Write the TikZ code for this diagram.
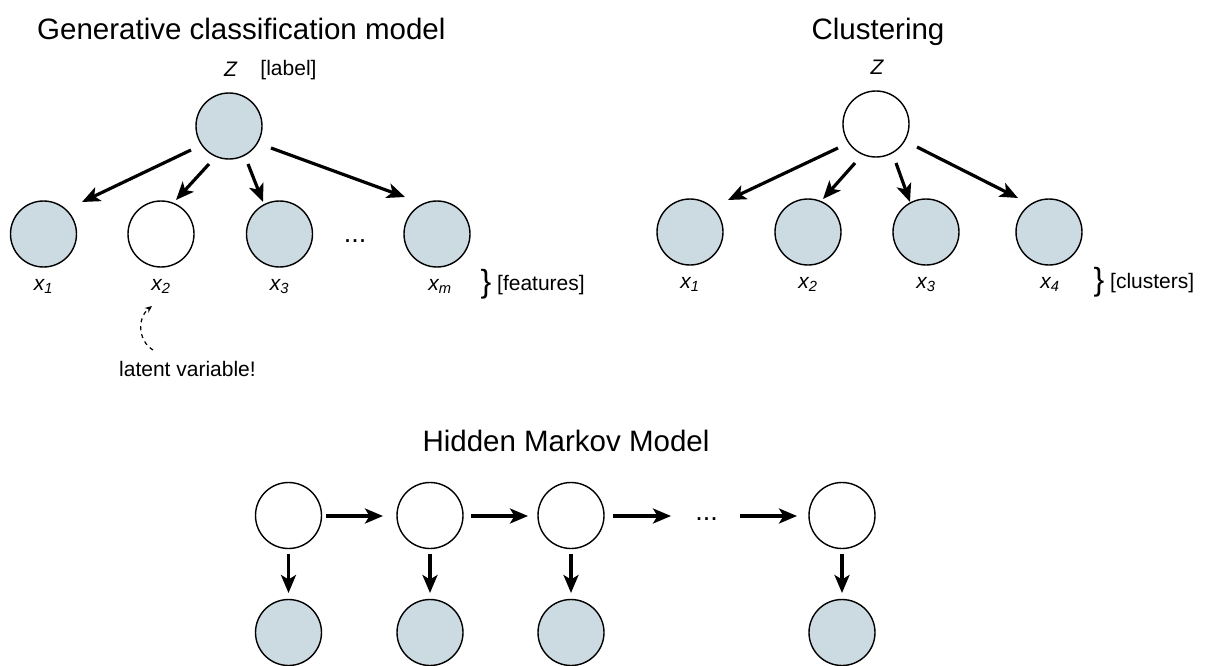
\documentclass[tikz,border=0pt]{standalone}
\usepackage{fontspec}
\setmainfont{Liberation Sans}
\usetikzlibrary{arrows.meta}
\definecolor{obs}{RGB}{204,218,225}
\begin{document}
\begin{tikzpicture}[x=1pt,y=-1pt,
  var/.style={circle,draw=black,line width=1.4pt,minimum size=66pt,inner sep=0pt},
  obsv/.style={var,fill=obs},
  hid/.style={var,fill=white},
  arr/.style={line width=3.2pt,-{Stealth[length=18pt,width=15pt,inset=4.5pt]}},
  title/.style={font=\fontsize{29.5}{34}\selectfont,inner sep=0pt},
  lbl/.style={font=\fontsize{21}{25}\selectfont,inner sep=0pt},
  xl/.style={font=\fontsize{21}{25}\selectfont\itshape,inner sep=0pt},
  bracetxt/.style={font=\fontsize{32}{36}\selectfont,inner sep=0pt},
  dotstxt/.style={font=\fontsize{27}{30}\selectfont,inner sep=0pt}
]
\useasboundingbox (0,0) rectangle (1205,666);

% titles
\node[title,anchor=base west] (t1) at (37,40) {Generative classification model};
\node[title,anchor=base] (t2) at (878,40) {Clustering};
\node[title,anchor=base] (t3) at (566,451) {Hidden Markov Model};

% ---------- generative classification model ----------
\node[obsv] (g) at (229,126) {};
\node[obsv] (g1) at (43.5,234) {};
\node[hid]  (g2) at (161,234) {};
\node[obsv] (g3) at (279.5,234) {};
\node[obsv] (gm) at (437,234) {};
\node[dotstxt,anchor=base] (gd) at (355,242) {...};

\node[xl,anchor=base] (gz) at (230.5,77) {Z};
\node[lbl,anchor=base] (glab) at (288.5,76) {[label]};

\node[xl,anchor=base] (gl1) at (43.5,290) {x\textsubscript{1}};
\node[xl,anchor=base] (gl2) at (161,290) {x\textsubscript{2}};
\node[xl,anchor=base] (gl3) at (279.5,290) {x\textsubscript{3}};
\node[xl,anchor=base] (glm) at (440,290) {x\textsubscript{m}};
\node[bracetxt] (gb) at (486,284) {\}};
\node[lbl,anchor=base west] (gf) at (497,290) {[features]};

\draw[arr] ([shift={(-38,24)}]g.center) -- ([shift={(38.5,-32)}]g1.center);
\draw[arr] ([shift={(-20,38)}]g.center) -- ([shift={(15,-34)}]g2.center);
\draw[arr] ([shift={(19,38)}]g.center) -- ([shift={(-16.5,-32)}]g3.center);
\draw[arr] ([shift={(42,22)}]g.center) -- ([shift={(-32,-37)}]gm.center);

\node[lbl,anchor=base] (lat) at (187.5,376) {latent variable!};
\coordinate (d1) at (153,350);
\coordinate (d2) at (152,306);
\draw[line width=1.2pt,dash pattern=on 4pt off 4pt,-{Stealth[length=7pt,width=6pt]}]
  (d1) .. controls (138,341) and (137,318) .. (d2);

% ---------- clustering ----------
\node[hid]  (c) at (876,124) {};
\node[obsv] (c1) at (690,232) {};
\node[obsv] (c2) at (808,232) {};
\node[obsv] (c3) at (926,232) {};
\node[obsv] (c4) at (1049,232) {};

\node[xl,anchor=base] (cz) at (877,75) {Z};
\node[xl,anchor=base] (cl1) at (690,288) {x\textsubscript{1}};
\node[xl,anchor=base] (cl2) at (808,288) {x\textsubscript{2}};
\node[xl,anchor=base] (cl3) at (926,288) {x\textsubscript{3}};
\node[xl,anchor=base] (cl4) at (1050,288) {x\textsubscript{4}};
\node[bracetxt] (cb) at (1099,282) {\}};
\node[lbl,anchor=base west] (cf) at (1110,288) {[clusters]};

\draw[arr] ([shift={(-38,24)}]c.center) -- ([shift={(38,-32)}]c1.center);
\draw[arr] ([shift={(-21,39)}]c.center) -- ([shift={(15,-33)}]c2.center);
\draw[arr] ([shift={(20,39)}]c.center) -- ([shift={(-16,-30)}]c3.center);
\draw[arr] ([shift={(41,23)}]c.center) -- ([shift={(-31,-34)}]c4.center);

% ---------- HMM ----------
\node[hid] (h1) at (288.5,515.5) {};
\node[hid] (h2) at (430,515.5) {};
\node[hid] (h3) at (571,515.5) {};
\node[hid] (h4) at (842,515.5) {};
\node[dotstxt,anchor=base] (hd) at (706.5,520) {...};
\node[obsv] (o1) at (288.5,632.5) {};
\node[obsv] (o2) at (430,632.5) {};
\node[obsv] (o3) at (571,632.5) {};
\node[obsv] (o4) at (842,632.5) {};

\draw[arr] ([shift={(37.5,0.5)}]h1.center) -- ([shift={(-47,0.5)}]h2.center);
\draw[arr] ([shift={(41,0.5)}]h2.center) -- ([shift={(-43,0.5)}]h3.center);
\draw[arr] ([shift={(42,0.5)}]h3.center) -- ([shift={(-35.5,-4)}]hd.base);
\draw[arr] ([shift={(33.5,-4)}]hd.base) -- ([shift={(-45,0.5)}]h4.center);
\foreach \i in {1,2,3,4}{
  \draw[arr] ([shift={(0,38.5)}]h\i.center) -- ([shift={(0,-39.5)}]o\i.center);
}
\end{tikzpicture}
\end{document}
